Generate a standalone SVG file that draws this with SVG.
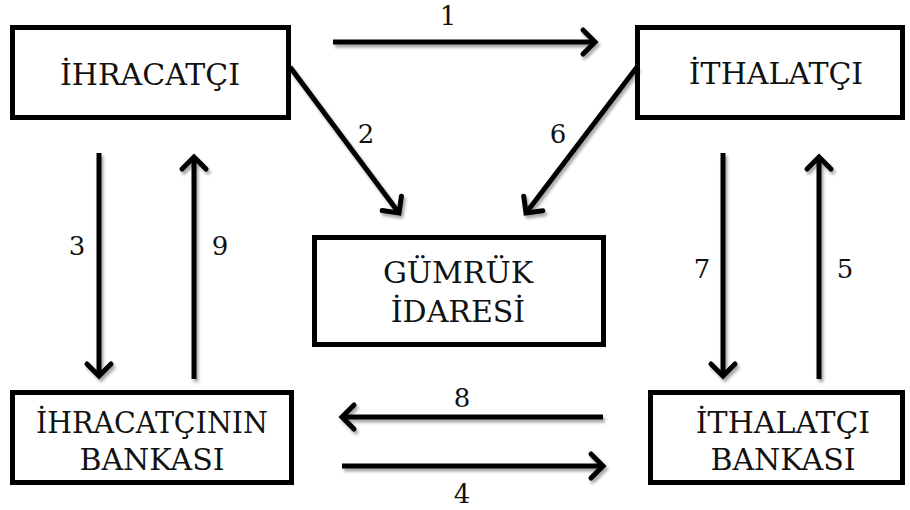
<svg xmlns="http://www.w3.org/2000/svg" width="910" height="510" viewBox="0 0 910 510">
  <style>
    .box { fill: #ffffff; stroke: #000000; stroke-width: 5; }
    .lbl { font-family: "DejaVu Serif", serif; font-size: 30px; fill: #111111; text-anchor: middle; }
    .num { font-family: "DejaVu Serif", serif; font-size: 26px; fill: #111111; text-anchor: middle; }
    .flow { fill: none; stroke: #000000; stroke-width: 5; marker-end: url(#head); }
  </style>
  <defs>
    <marker id="head" markerUnits="userSpaceOnUse" viewBox="-20 -20 40 40" markerWidth="40" markerHeight="40" refX="0" refY="0" orient="auto">
      <path d="M-12,-12 L0,0 L-12,12" fill="none" stroke="#000000" stroke-width="5" stroke-linecap="round" stroke-linejoin="miter"/>
    </marker>
    <filter id="shade" x="-20%" y="-20%" width="140%" height="140%">
      <feDropShadow dx="2" dy="3" stdDeviation="1.5" flood-color="#000000" flood-opacity="0.35"/>
    </filter>
  </defs>

  <!-- parties -->
  <g id="ihracatci">
    <rect class="box" x="12.5" y="27.5" width="276" height="90"/>
    <text class="lbl" x="150" y="85">İHRACATÇI</text>
  </g>
  <g id="ithalatci">
    <rect class="box" x="637.5" y="27.5" width="265" height="90"/>
    <text class="lbl" x="776" y="84">İTHALATÇI</text>
  </g>
  <g id="gumruk">
    <rect class="box" x="314.5" y="237.5" width="289" height="107"/>
    <text class="lbl" x="458" y="283">GÜMRÜK</text>
    <text class="lbl" x="458" y="322">İDARESİ</text>
  </g>
  <g id="ihracatci-bankasi">
    <rect class="box" x="12.5" y="392.5" width="279" height="90"/>
    <text class="lbl" x="152" y="433" textLength="232" lengthAdjust="spacingAndGlyphs">İHRACATÇININ</text>
    <text class="lbl" x="152" y="470">BANKASI</text>
  </g>
  <g id="ithalatci-bankasi">
    <rect class="box" x="650.5" y="392.5" width="252" height="90"/>
    <text class="lbl" x="783" y="433">İTHALATÇI</text>
    <text class="lbl" x="783" y="470">BANKASI</text>
  </g>

  <!-- numbered flows -->
  <g id="connectors" filter="url(#shade)">
    <path class="flow" d="M333,42 L595,42"/>
    <path class="flow" d="M290,67 L399,213"/>
    <path class="flow" d="M637,67 L526,213"/>
    <path class="flow" d="M99,153 L99,376"/>
    <path class="flow" d="M194,379 L194,157"/>
    <path class="flow" d="M723,153 L723,376"/>
    <path class="flow" d="M819,379 L819,157"/>
    <path class="flow" d="M603,417 L342,417"/>
    <path class="flow" d="M342,466 L603,466"/>
  </g>

  <g id="flow-numbers">
    <text class="num" x="448" y="25">1</text>
    <text class="num" x="366" y="143">2</text>
    <text class="num" x="77" y="255">3</text>
    <text class="num" x="462" y="503">4</text>
    <text class="num" x="845" y="278">5</text>
    <text class="num" x="558" y="143">6</text>
    <text class="num" x="702" y="278">7</text>
    <text class="num" x="462" y="407">8</text>
    <text class="num" x="220" y="255">9</text>
  </g>
</svg>
